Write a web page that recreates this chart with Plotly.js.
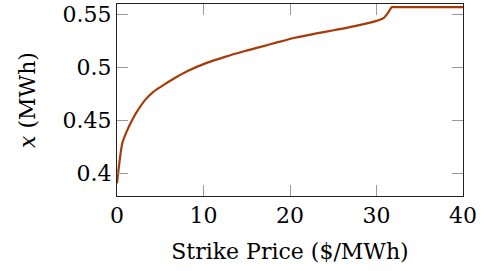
<!DOCTYPE html>
<html>
<head>
<meta charset="utf-8">
<script src="https://cdn.plot.ly/plotly-3.0.1.min.js"></script>
<style>html,body{margin:0;padding:0;background:#fff;}#chart{width:502px;height:271px;}</style>
</head>
<body>
<div id="chart"></div>
<script>
const strikePrice = [0, 0.27, 0.61, 1.1, 1.7, 2.27, 3.24, 4.2, 5.35, 6.5, 8.1, 10.37, 12.49, 14.6, 16.73, 18.5, 20.58, 22.9, 25.2, 27.5, 29.8, 30.8, 31.4, 31.76, 32.3, 40];
const xValue = [0.391, 0.410, 0.4288, 0.4395, 0.4497, 0.4580, 0.4694, 0.4772, 0.4835, 0.4893, 0.4965, 0.5045, 0.5102, 0.5152, 0.5198, 0.5238, 0.5282, 0.532, 0.5355, 0.5392, 0.5436, 0.5467, 0.5525, 0.557, 0.557, 0.557];
const xTicks = [0, 10, 20, 30, 40];
const yTicks = [0.4, 0.45, 0.5, 0.55];
const yTickText = ['0.4', '0.45', '0.5', '0.55'];

const font = {family: 'DejaVu Serif', size: 22, color: '#000'};

Plotly.newPlot('chart', [{
  x: strikePrice, y: xValue, type: 'scatter', mode: 'lines',
  line: {color: '#a83a08', width: 2.2, shape: 'spline', smoothing: 0.8}, hoverinfo: 'skip'
}], {
  width: 502, height: 271,
  margin: {l: 117, r: 39, t: 4, b: 75},
  paper_bgcolor: '#fff', plot_bgcolor: '#fff',
  showlegend: false,
  font: font,
  xaxis: {
    range: [0, 40], tickvals: xTicks, ticktext: xTicks.map(String),
    ticks: 'inside', ticklen: 11, tickcolor: '#999', tickwidth: 1,
    showline: true, linecolor: '#222', linewidth: 1, mirror: 'ticks',
    showgrid: false, zeroline: false, tickfont: font,
    title: {text: 'Strike Price ($/MWh)', font: font, standoff: 16}
  },
  yaxis: {
    range: [0.379, 0.560], tickvals: yTicks, ticktext: yTickText,
    ticks: 'inside', ticklen: 11, tickcolor: '#999', tickwidth: 1,
    showline: true, linecolor: '#222', linewidth: 1, mirror: 'ticks',
    showgrid: false, zeroline: false, tickfont: font,
    title: {text: '<i>x</i> (MWh)', font: font, standoff: 20}
  }
}, {staticPlot: true, displayModeBar: false});
</script>
</body>
</html>
